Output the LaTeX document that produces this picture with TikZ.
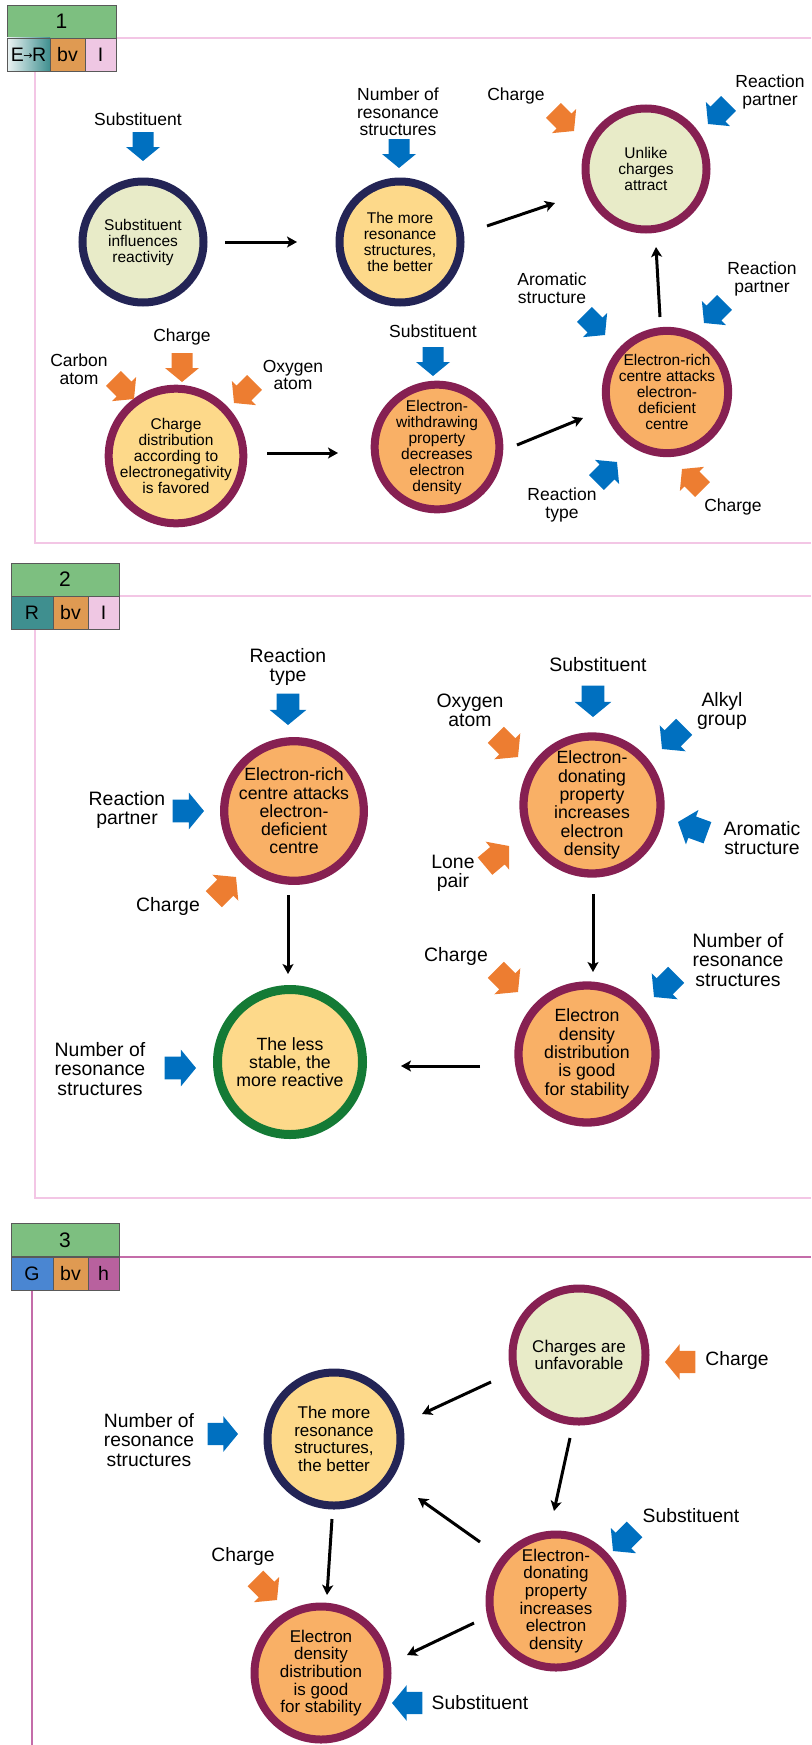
\documentclass[tikz,border=0pt]{standalone}
\usepackage{fontspec}
\setmainfont{Liberation Sans}
\newfontfamily\arrowfont{DejaVu Sans}
\usetikzlibrary{arrows.meta}

\definecolor{navyring}{HTML}{232455}
\definecolor{maroonring}{HTML}{862052}
\definecolor{greenring}{HTML}{147A35}
\definecolor{palefill}{HTML}{E8EBC8}
\definecolor{yellowfill}{HTML}{FDD98A}
\definecolor{orangefill}{HTML}{F9B066}
\definecolor{arrowblue}{HTML}{0070C0}
\definecolor{arroworange}{HTML}{ED7D31}
\definecolor{hdrgreen}{HTML}{7DBF80}
\definecolor{cellteal}{HTML}{3F8F8F}
\definecolor{cellbv}{HTML}{DF9A52}
\definecolor{cellI}{HTML}{EFC7E3}
\definecolor{cellG}{HTML}{4A86D2}
\definecolor{cellh}{HTML}{B8619E}
\definecolor{framepink}{HTML}{F3C6E5}
\definecolor{frameplum}{HTML}{C46CA9}

\tikzset{
  fatarrow/.pic={\fill[#1] (0,0) -- (-14,-17) -- (-14,-10.5) -- (-29,-10.5)
      -- (-29,10.5) -- (-14,10.5) -- (-14,17) -- cycle;},
  bubble/.style={circle, inner sep=0pt, align=center, text=black},
  bubbleA/.style={bubble, line width=8pt, minimum size=121pt,
      font=\fontsize{15.5}{16}\selectfont},
  bubbleB/.style={bubble, line width=8.3pt, minimum size=137pt,
      font=\fontsize{17.7}{18.3}\selectfont},
  bubbleC/.style={bubble, line width=8pt, minimum size=133pt,
      font=\fontsize{17}{17.7}\selectfont},
  pale/.style={fill=palefill},
  yell/.style={fill=yellowfill},
  oran/.style={fill=orangefill},
  navy/.style={draw=navyring},
  maroon/.style={draw=maroonring},
  greenr/.style={draw=greenring},
  lblA/.style={align=center, inner sep=0pt, font=\fontsize{17.5}{17.5}\selectfont},
  lblB/.style={align=center, inner sep=0pt, font=\fontsize{19.4}{19.3}\selectfont},
  lblC/.style={align=center, inner sep=0pt, font=\fontsize{19.3}{19.2}\selectfont},
  conn/.style={line width=3pt, -{Stealth[length=10pt,width=11pt,inset=2.5pt]}},
  cell/.style={draw=black!65, line width=0.8pt, inner sep=0pt, minimum height=33pt,
      font=\fontsize{19.5}{19.5}\selectfont},
  numcell/.style={cell, fill=hdrgreen, font=\fontsize{21}{21}\selectfont},
  frameA/.style={framepink, line width=1.2pt},
  frameC/.style={frameplum, line width=1.2pt},
}

\begin{document}
\begin{tikzpicture}[x=1pt,y=-1pt]
\useasboundingbox (0,0) rectangle (811,1745);

% ---------------- section 1 ----------------
\draw[frameA] (116,38) -- (811,38);
\draw[frameA] (35,71) -- (35,543) -- (811,543);
\node[numcell, minimum width=109pt] (n1) at (61.5,21.5) {1};
\shade[left color=white!90!cellteal, right color=cellteal] (7,38) rectangle (50,71);
\node[cell, minimum width=43pt] (er) at (28.5,54.5) {E\kern-0.5pt\raisebox{1.5pt}{\arrowfont\fontsize{11}{11}\selectfont →}\kern-0.5pt R};
\node[cell, fill=cellbv, minimum width=35pt] (bv1) at (67.5,54.5) {bv};
\node[cell, fill=cellI, minimum width=31pt] (i1) at (100.5,54.5) {I};

\node[bubbleA, pale, navy] (c1) at (143,242) {Substituent\\influences\\reactivity};
\node[bubbleA, yell, navy] (c2) at (400,242) {The more\\resonance\\structures,\\the better};
\node[bubbleA, pale, maroon] (c3) at (646,169) {Unlike\\charges\\attract};
\node[bubbleA, yell, maroon] (c4) at (176,456) {Charge\\distribution\\according to\\electronegativity\\is favored};
\node[bubbleA, oran, maroon] (c5) at (437,447) {Electron-\\withdrawing\\property\\decreases\\electron\\density};
\node[bubbleA, oran, maroon] (c6) at (667,392) {Electron-rich\\centre attacks\\electron-\\deficient\\centre};

\draw[conn] ([shift={(82,0)}]c1.center) -- ([shift={(-103,0)}]c2.center);
\draw[conn] ([shift={(87,-16)}]c2.center) -- ([shift={(-91,34)}]c3.center);
\draw[conn] ([shift={(91,-3)}]c4.center) -- ([shift={(-99,6)}]c5.center);
\draw[conn] ([shift={(80,-2)}]c5.center) -- ([shift={(-84,26)}]c6.center);
\draw[conn] ([shift={(-7,-75)}]c6.center) -- ([shift={(10,78)}]c3.center);

\node[lblA] (a1) at (138,119) {Substituent};
\node[lblA] (a2) at (398,112) {Number of\\resonance\\structures};
\node[lblA] (a3) at (516,96) {Charge};
\node[lblA] (a4) at (770,92) {Reaction\\partner};
\node[lblA] (a5) at (552,288) {Aromatic\\structure};
\node[lblA] (a6) at (762,279) {Reaction\\partner};
\node[lblA] (a7) at (562,505) {Reaction\\type};
\node[lblA] (a8) at (733,507) {Charge};
\node[lblA] (a9) at (182,337) {Charge};
\node[lblA] (a10) at (79,369) {Carbon\\atom};
\node[lblA] (a11) at (293,375) {Oxygen\\atom};
\node[lblA] (a12) at (433,331) {Substituent};

\pic[rotate=-90] at (143,161) {fatarrow=arrowblue};
\pic[rotate=-90] at (399,168) {fatarrow=arrowblue};
\pic[rotate=-45] at (574,131) {fatarrow=arroworange};
\pic[rotate=-135] at (708,124) {fatarrow=arrowblue};
\pic[rotate=-45] at (605,335) {fatarrow=arrowblue};
\pic[rotate=-135] at (704,323) {fatarrow=arrowblue};
\pic[rotate=45] at (617,462) {fatarrow=arrowblue};
\pic[rotate=135] at (682,469) {fatarrow=arroworange};
\pic[rotate=-90] at (182,382) {fatarrow=arroworange};
\pic[rotate=-45] at (134,399) {fatarrow=arroworange};
\pic[rotate=-135] at (234,403) {fatarrow=arroworange};
\pic[rotate=-90] at (433,376) {fatarrow=arrowblue};

% ---------------- section 2 ----------------
\draw[frameA] (119,596) -- (811,596);
\draw[frameA] (35,629) -- (35,1198) -- (811,1198);
\node[numcell, minimum width=108pt] (n2) at (65,579.5) {2};
\node[cell, fill=cellteal, minimum width=42pt] (r2) at (32,612.5) {R};
\node[cell, fill=cellbv, minimum width=35pt] (bv2) at (70.5,612.5) {bv};
\node[cell, fill=cellI, minimum width=31pt] (i2) at (103.5,612.5) {I};

\node[bubbleB, oran, maroon] (d1) at (294,811) {Electron-rich\\centre attacks\\electron-\\deficient\\centre};
\node[bubbleB, yell, greenr, line width=9pt, minimum size=145pt] (d2) at (290,1062) {The less\\stable, the\\more reactive};
\node[bubbleB, oran, maroon] (d3) at (592,805) {Electron-\\donating\\property\\increases\\electron\\density};
\node[bubbleB, oran, maroon] (d4) at (587,1054) {Electron\\density\\distribution\\is good\\for stability};

\draw[conn] ([shift={(-6,84)}]d1.center) -- ([shift={(-2,-88)}]d2.center);
\draw[conn] ([shift={(1,89)}]d3.center) -- ([shift={(6,-82)}]d4.center);
\draw[conn] ([shift={(-107,12)}]d4.center) -- ([shift={(111,4)}]d2.center);

\node[lblB] (b1) at (288,667) {Reaction\\type};
\node[lblB] (b2) at (127,810) {Reaction\\partner};
\node[lblB] (b3) at (168,906) {Charge};
\node[lblB] (b4) at (100,1069) {Number of\\resonance\\structures};
\node[lblB] (b5) at (598,665) {Substituent};
\node[lblB] (b6) at (470,710) {Oxygen\\atom};
\node[lblB] (b7) at (722,711) {Alkyl\\group};
\node[lblB] (b8) at (762,838) {Aromatic\\structure};
\node[lblB] (b9) at (453,873) {Lone\\pair};
\node[lblB] (b10) at (456,956) {Charge};
\node[lblB] (b11) at (738,960) {Number of\\resonance\\structures};

\pic[scale=1.08, rotate=-90] at (288,725) {fatarrow=arrowblue};
\pic[scale=1.08, rotate=0] at (204,811) {fatarrow=arrowblue};
\pic[scale=1.08, rotate=45] at (236,877) {fatarrow=arroworange};
\pic[scale=1.08, rotate=0] at (196,1068) {fatarrow=arrowblue};
\pic[scale=1.08, rotate=-90] at (593,717) {fatarrow=arrowblue};
\pic[scale=1.08, rotate=-45] at (518,757) {fatarrow=arroworange};
\pic[scale=1.08, rotate=-135] at (662,749) {fatarrow=arrowblue};
\pic[scale=1.08, rotate=160] at (678,822) {fatarrow=arrowblue};
\pic[scale=1.08, rotate=40] at (509,846) {fatarrow=arroworange};
\pic[scale=1.08, rotate=-45] at (518,992) {fatarrow=arroworange};
\pic[scale=1.08, rotate=-135] at (654,997) {fatarrow=arrowblue};

% ---------------- section 3 ----------------
\draw[frameC] (119,1257) -- (811,1257);
\draw[frameC] (32,1290) -- (32,1745);
\node[numcell, minimum width=108pt] (n3) at (65,1240) {3};
\node[cell, fill=cellG, minimum width=42pt] (g3) at (32,1273.5) {G};
\node[cell, fill=cellbv, minimum width=35pt] (bv3) at (70.5,1273.5) {bv};
\node[cell, fill=cellh, minimum width=31pt] (h3) at (103.5,1273.5) {h};

\node[bubbleC, yell, navy] (e1) at (334,1439) {The more\\resonance\\structures,\\the better};
\node[bubbleC, oran, maroon] (e2) at (321,1673) {Electron\\density\\distribution\\is good\\for stability};
\node[bubbleC, pale, maroon] (e3) at (579,1355) {Charges are\\unfavorable};
\node[bubbleC, oran, maroon] (e4) at (556,1601) {Electron-\\donating\\property\\increases\\electron\\density};

\draw[conn] ([shift={(-2,80)}]e1.center) -- ([shift={(6,-78)}]e2.center);
\draw[conn] ([shift={(-88,27)}]e3.center) -- ([shift={(88,-25)}]e1.center);
\draw[conn] ([shift={(-76,-59)}]e4.center) -- ([shift={(84,59)}]e1.center);
\draw[conn] ([shift={(-82,22)}]e4.center) -- ([shift={(86,-18)}]e2.center);
\draw[conn] ([shift={(-9,83)}]e3.center) -- ([shift={(-2,-90)}]e4.center);

\node[lblC] (f1) at (149,1440) {Number of\\resonance\\structures};
\node[lblC] (f2) at (243,1556) {Charge};
\node[lblC] (f3) at (480,1703) {Substituent};
\node[lblC] (f4) at (737,1360) {Charge};
\node[lblC] (f5) at (691,1516) {Substituent};

\pic[scale=1.05, rotate=0] at (238,1434) {fatarrow=arrowblue};
\pic[scale=1.05, rotate=-45] at (277,1600) {fatarrow=arroworange};
\pic[scale=1.05, rotate=180] at (392,1703) {fatarrow=arrowblue};
\pic[scale=1.05, rotate=180] at (665,1362) {fatarrow=arroworange};
\pic[scale=1.05, rotate=-135] at (613,1551) {fatarrow=arrowblue};
\end{tikzpicture}
\end{document}
